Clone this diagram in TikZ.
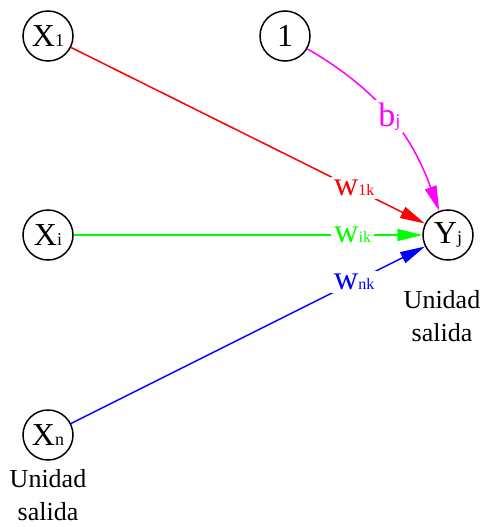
\documentclass[tikz,border=0pt]{standalone}
\usepackage{fontspec}
\setmainfont{Liberation Serif}
\usetikzlibrary{positioning,arrows.meta}

\definecolor{pink}{RGB}{255,0,255}
\newcommand{\smallsub}[1]{{\fontsize{16}{16}\selectfont #1}}
\newcommand{\unitsub}[1]{{\fontsize{18}{18}\selectfont #1}}

\begin{document}
\begin{tikzpicture}[x=1pt, y=1pt, node distance=199pt, >={Triangle[length=25pt, width=12pt]}]
  % Define styles
  \tikzstyle{neuron}=[circle, draw=black, line width=1.5pt, minimum size=50pt, inner sep=0pt, font=\fontsize{32}{32}\selectfont]
  \tikzstyle{weight}=[fill=white, inner sep=3pt, font=\fontsize{34}{34}\selectfont]
  \tikzstyle{caption}=[align=center, inner sep=0pt, font=\fontsize{26}{33}\selectfont]
  \tikzstyle{link}=[->, line width=1.5pt]

  \useasboundingbox (0,0) rectangle (482,-527);

  % Units
  \node[neuron] (x1) at (48,-36) {X\unitsub{1}};
  \node[neuron, below of=x1] (xi) {X\unitsub{i}};
  \node[neuron, below of=xi, yshift=-1pt] (xn) {X\unitsub{n}};
  \node[neuron] (one) at (285,-36) {1};
  \node[neuron, right of=xi, xshift=201pt] (yj) {Y\unitsub{j}};

  % Captions
  \node[caption, below=9pt of xn] (capn) {Unidad\\salida};
  \node[caption, below=30pt of yj, xshift=-6pt] (capj) {Unidad\\salida};

  % Weights
  \draw[link, red] (x1) -- node[weight, pos=0.8] {w\smallsub{1k}} (yj);
  \draw[link, green] (xi) -- node[weight, pos=0.8] {w\smallsub{ik}} (yj);
  \draw[link, blue] (xn) -- node[weight, pos=0.8] {w\smallsub{nk}} (yj);
  \draw[link, pink] (one) to[out=-30, in=110] node[weight, pos=0.5, font=\fontsize{34}{34}\selectfont] {b\unitsub{j}} (yj);
\end{tikzpicture}
\end{document}
